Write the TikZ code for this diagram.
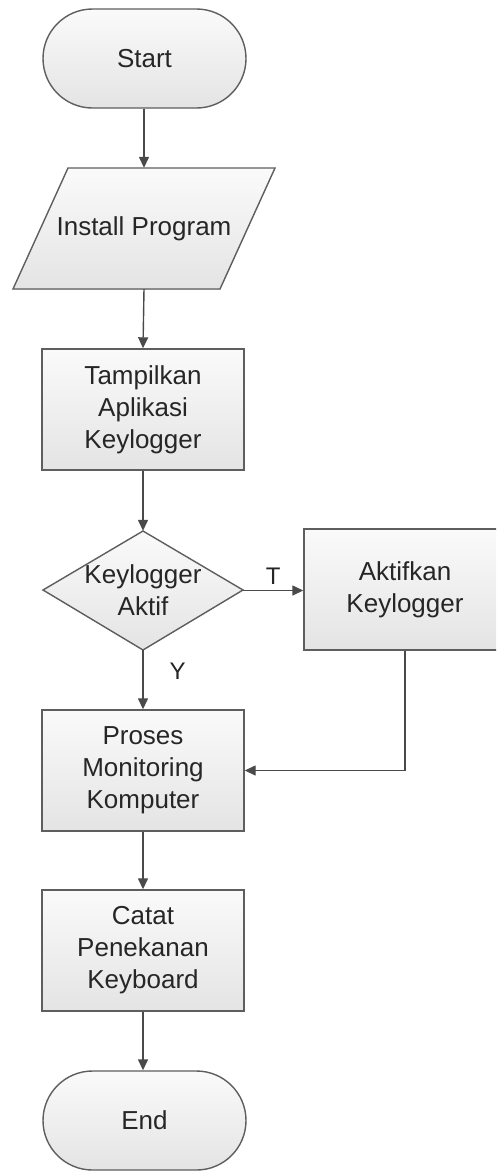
\documentclass[tikz,border=0pt]{standalone}
\usepackage{fontspec}
\setmainfont{Liberation Sans}
\usetikzlibrary{arrows.meta}
\definecolor{edge}{HTML}{5E5E5E}
\definecolor{wire}{HTML}{4A4A4A}
\definecolor{fillbot}{HTML}{E4E4E4}
\definecolor{filltop}{HTML}{FAFAFA}
\begin{document}
\begin{tikzpicture}[x=1pt,y=-1pt,
  every node/.style={font=\fontsize{26}{32}\selectfont, text=black!85, align=center, inner sep=0pt},
  boxfill/.style={top color=filltop, bottom color=fillbot, draw=edge, line width=1.4pt},
  procbox/.style={boxfill, rectangle, minimum width=202pt, minimum height=121pt},
  termbox/.style={boxfill, rectangle, rounded corners=49.5pt, minimum width=203pt, minimum height=99pt},
  holder/.style={rectangle, minimum width=#1},
  flow/.style={draw=wire, line width=1.4pt, -{Triangle[width=10pt,length=11pt]}},
  tag/.style={font=\fontsize{24}{28}\selectfont}]
  \useasboundingbox (0,0) rectangle (496,1171);
  \clip (0,0) rectangle (496,1171);
  \fill[white] (0,0) rectangle (496,1171);

  % terminators and process boxes
  \node[termbox] (start) at (144.5,58.5) {Start};
  \node[procbox] (show) at (143,409.5) {Tampilkan\\Aplikasi\\Keylogger};
  \node[procbox] (activate) at (405,589.5) {Aktifkan\\Keylogger};
  \node[procbox] (monitor) at (143,770.5) {Proses\\Monitoring\\Komputer};
  \node[procbox] (record) at (143,950.5) {Catat\\Penekanan\\Keyboard};
  \node[termbox] (finish) at (144.5,1120.5) {End};

  % input parallelogram
  \filldraw[boxfill] (68,168) -- (275,168) -- (220,289) -- (13,289) -- cycle;
  \node[holder=262pt, minimum height=121pt] (install) at (144,228.5) {Install Program};

  % decision diamond
  \filldraw[boxfill] (143,531) -- (243,590) -- (143,650) -- (43,590) -- cycle;
  \node[holder=200pt, minimum height=119pt] (check) at (143,590.5) {Keylogger\\Aktif};

  % connectors
  \draw[flow] (start.south -| install.north) -- (install.north);
  \draw[flow] (install.south) -- (show.north);
  \draw[flow] (show.south) -- (check.north);
  \draw[flow] (check.east) -- node[tag, above=5pt] {T} (activate.west |- check.east);
  \draw[flow] (check.south) -- node[tag, right=26pt, pos=0.35] {Y} (monitor.north);
  \draw[flow] (activate.south) |- (monitor.east);
  \draw[flow] (monitor.south) -- (record.north);
  \draw[flow] (record.south) -- (finish.north -| record.south);
\end{tikzpicture}
\end{document}
